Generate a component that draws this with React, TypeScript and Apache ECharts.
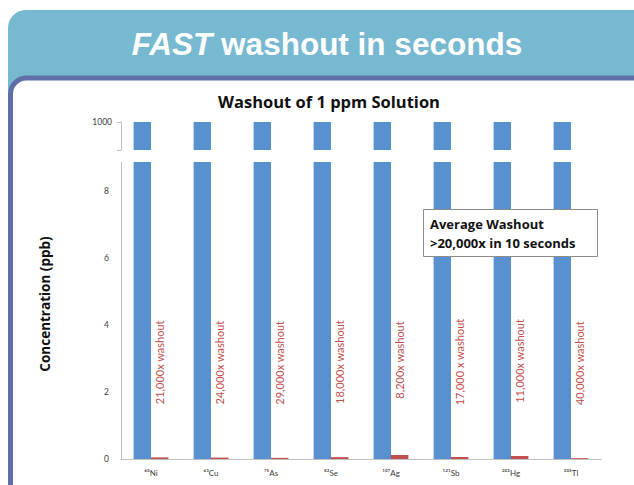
import React, { useEffect, useRef } from "react";
import * as echarts from "echarts";

const categories = ["Ni", "Cu", "As", "Se", "Ag", "Sb", "Hg", "Tl"];
const massNumbers = ["60", "63", "75", "82", "107", "121", "202", "205"];
const solutionConc = [1000, 1000, 1000, 1000, 1000, 1000, 1000, 1000];
const afterWashoutConc = [0.048, 0.042, 0.034, 0.056, 0.12, 0.059, 0.09, 0.025];
const washoutLabels = [
  "21,000x washout",
  "24,000x washout",
  "29,000x washout",
  "18,000x washout",
  "8,200x washout",
  "17,000 x washout",
  "11,000x washout",
  "40,000x washout",
];

const SUP: Record<string, string> = {
  "0": "⁰", "1": "¹", "2": "²", "3": "³", "4": "⁴",
  "5": "⁵", "6": "⁶", "7": "⁷", "8": "⁸", "9": "⁹",
};
const toSup = (s: string) => s.split("").map((c) => SUP[c] || c).join("");
const xLabels = categories.map((c, i) => toSup(massNumbers[i]) + c);

const BLUE = "#5890d0";
const RED = "#c0504d";
const AXIS = "#bfbfbf";
const FONT = "Lato, 'Open Sans', sans-serif";
const BOLDFONT = "'Open Sans', Lato, sans-serif";

export default function App() {
  const ref = useRef<HTMLDivElement>(null);
  useEffect(() => {
    document.body.style.margin = "0";
    if (!ref.current) return;
    const chart = echarts.init(ref.current, undefined, { renderer: "svg" });
    const gridL = 121;
    const gridR = 33;
    chart.setOption({
      animation: false,
      backgroundColor: "#ffffff",
      textStyle: { fontFamily: FONT },
      grid: [
        { left: gridL, right: gridR, top: 122, height: 28 },
        { left: gridL, right: gridR, top: 162, height: 297 },
      ],
      xAxis: [
        {
          gridIndex: 0,
          type: "category",
          data: xLabels,
          axisLine: { show: false },
          axisTick: { show: false },
          axisLabel: { show: false },
        },
        {
          gridIndex: 1,
          type: "category",
          data: xLabels,
          axisLine: { lineStyle: { color: AXIS, width: 1 } },
          axisTick: { show: false },
          axisLabel: { color: "#404040", fontSize: 8, margin: 10, fontFamily: FONT },
        },
      ],
      yAxis: [
        {
          gridIndex: 0,
          type: "value",
          min: 990,
          max: 1000,
          interval: 10,
          axisLine: { show: true, lineStyle: { color: AXIS } },
          axisTick: { show: true, length: 4, lineStyle: { color: AXIS } },
          splitLine: { show: false },
          axisLabel: {
            color: "#404040",
            fontSize: 8.5,
            margin: 9,
            fontFamily: FONT,
            formatter: (v: number) => (v === 1000 ? "1000" : ""),
          },
        },
        {
          gridIndex: 1,
          type: "value",
          min: 0,
          max: 8.87,
          interval: 2,
          axisLine: { show: true, lineStyle: { color: AXIS } },
          axisTick: { show: false },
          splitLine: { show: false },
          axisLabel: {
            color: "#404040",
            fontSize: 8.5,
            margin: 12,
            fontFamily: FONT,
            showMaxLabel: false,
          },
        },
      ],
      series: [
        {
          type: "bar",
          xAxisIndex: 0,
          yAxisIndex: 0,
          data: solutionConc,
          itemStyle: { color: BLUE },
          barGap: "0%",
          barCategoryGap: "42%",
          clip: true,
        },
        {
          type: "bar",
          xAxisIndex: 0,
          yAxisIndex: 0,
          data: afterWashoutConc.map(() => "-"),
          itemStyle: { color: RED },
          barGap: "0%",
          barCategoryGap: "42%",
        },
        {
          type: "bar",
          xAxisIndex: 1,
          yAxisIndex: 1,
          data: solutionConc,
          itemStyle: { color: BLUE },
          barGap: "0%",
          barCategoryGap: "42%",
          clip: true,
        },
        {
          type: "bar",
          xAxisIndex: 1,
          yAxisIndex: 1,
          data: afterWashoutConc,
          itemStyle: { color: RED },
          barGap: "0%",
          barCategoryGap: "42%",
          label: {
            show: true,
            position: ["50%", -95],
            rotate: 90,
            align: "center",
            verticalAlign: "middle",
            color: RED,
            fontSize: 11,
            fontFamily: FONT,
            formatter: (p: any) => washoutLabels[p.dataIndex],
          },
        },
      ],
      graphic: [
        {
          type: "rect",
          z: -10,
          silent: true,
          shape: { x: 8, y: 10, width: 660, height: 520, r: 18 },
          style: { fill: "#77b9d1" },
        },
        {
          type: "rect",
          z: -9,
          silent: true,
          shape: { x: 10.5, y: 78, width: 660, height: 520, r: 16 },
          style: { fill: "#ffffff", stroke: "#5f6ea8", lineWidth: 5 },
        },
        {
          type: "text",
          z: 10,
          x: 327,
          y: 44,
          style: {
            text: "{i|FAST} {b|washout in seconds}",
            align: "center",
            verticalAlign: "middle",
            rich: {
              i: {
                fontFamily: "'Liberation Sans', Arial, sans-serif",
                fontWeight: "bold",
                fontStyle: "italic",
                fontSize: 31.5,
                fill: "#ffffff",
              },
              b: {
                fontFamily: "'Liberation Sans', Arial, sans-serif",
                fontWeight: "bold",
                fontSize: 31.5,
                fill: "#ffffff",
              },
            },
            fill: "#ffffff",
            fontSize: 31.5,
          },
        },
        {
          type: "text",
          z: 10,
          x: 329,
          y: 101,
          style: {
            text: "Washout of 1 ppm Solution",
            align: "center",
            verticalAlign: "middle",
            fontFamily: BOLDFONT,
            fontWeight: "bold",
            fontSize: 16.5,
            fill: "#111111",
          },
        },
        {
          type: "text",
          z: 10,
          x: 45,
          y: 304,
          rotation: Math.PI / 2,
          style: {
            text: "Concentration (ppb)",
            align: "center",
            verticalAlign: "middle",
            fontFamily: BOLDFONT,
            fontWeight: "bold",
            fontSize: 13.5,
            fill: "#111111",
          },
        },
        {
          type: "rect",
          z: 100,
          shape: { x: 423.5, y: 209.5, width: 174, height: 47 },
          style: { fill: "#ffffff", stroke: "#8c8c8c", lineWidth: 1 },
        },
        {
          type: "text",
          z: 101,
          x: 430,
          y: 233.5,
          style: {
            text: "Average Washout\n>20,000x in 10 seconds",
            align: "left",
            verticalAlign: "middle",
            fontFamily: BOLDFONT,
            fontWeight: "bold",
            fontSize: 13,
            lineHeight: 19,
            fill: "#111111",
          },
        },
      ],
    });
    return () => chart.dispose();
  }, []);
  return (
    <div
      ref={ref}
      style={{ position: "fixed", left: 0, top: 0, width: 634, height: 485 }}
    />
  );
}
